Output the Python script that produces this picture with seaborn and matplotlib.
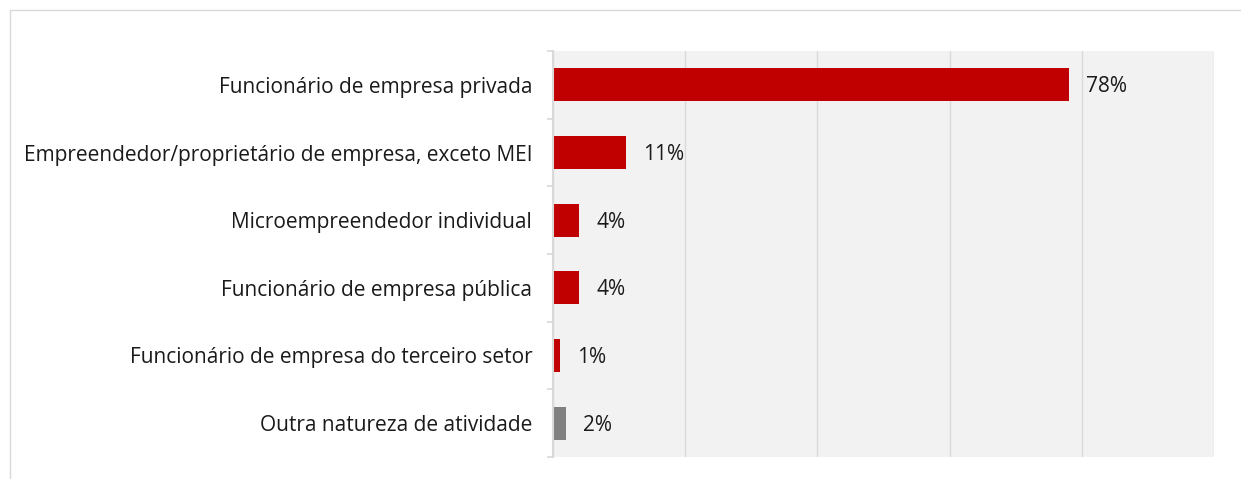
import matplotlib
matplotlib.use("Agg")
import matplotlib.pyplot as plt
import seaborn as sns
import pandas as pd
from matplotlib.patches import Rectangle

# chart data
categories = [
    "Funcionário de empresa privada",
    "Empreendedor/proprietário de empresa, exceto MEI",
    "Microempreendedor individual",
    "Funcionário de empresa pública",
    "Funcionário de empresa do terceiro setor",
    "Outra natureza de atividade",
]
values = [78, 11, 4, 4, 1, 2]
value_labels = ["78%", "11%", "4%", "4%", "1%", "2%"]
bar_colors = ["#C00000", "#C00000", "#C00000", "#C00000", "#C00000", "#808080"]

df = pd.DataFrame({"categoria": categories, "valor": values})

sns.set_style("white")
plt.rcParams["font.family"] = ["Open Sans", "DejaVu Sans"]

fig = plt.figure(figsize=(12.41, 4.79), dpi=100)
ax = fig.add_axes([553 / 1241, 22 / 479, (1214 - 553) / 1241, (457 - 51) / 479])

sns.barplot(data=df, y="categoria", x="valor", hue="categoria", palette=bar_colors,
            legend=False, width=0.49, saturation=1, linewidth=0, ax=ax, orient="h")

ax.set_facecolor("#F2F2F2")
ax.set_xlim(0, 100)
ax.set_xticks([0, 20, 40, 60, 80, 100])
ax.set_xticklabels([])
ax.tick_params(axis="x", length=0)
ax.grid(axis="x", color="#D9D9D9", linewidth=1)
ax.set_axisbelow(True)
ax.set_xlabel("")
ax.set_ylabel("")

# category separator ticks on the left spine
ax.set_ylim(len(categories) - 0.5, -0.5)
ax.set_yticks([i for i in range(len(categories))])
ax.set_yticklabels(categories, fontsize=15, color="#1a1a1a")
ax.set_yticks([i - 0.5 for i in range(len(categories) + 1)], minor=True)
ax.tick_params(axis="y", which="major", left=True, length=0, pad=15)
ax.tick_params(axis="y", which="minor", left=True, length=4, color="#D9D9D9", width=1.2)

for s in ["top", "right", "bottom"]:
    ax.spines[s].set_visible(False)
ax.spines["left"].set_color("#D9D9D9")
ax.spines["left"].set_linewidth(1.5)

for i, (v, lab) in enumerate(zip(values, value_labels)):
    ax.text(v + 2.6, i + 0.03, lab, va="center", ha="left", fontsize=15, color="#1a1a1a")

# outer frame
fig.patches.append(Rectangle((10 / 1241, -0.1), 1.2, (479 - 10) / 479 + 0.1,
                             transform=fig.transFigure, fill=False,
                             edgecolor="#D9D9D9", linewidth=1))

fig.savefig("out.png", dpi=100)
